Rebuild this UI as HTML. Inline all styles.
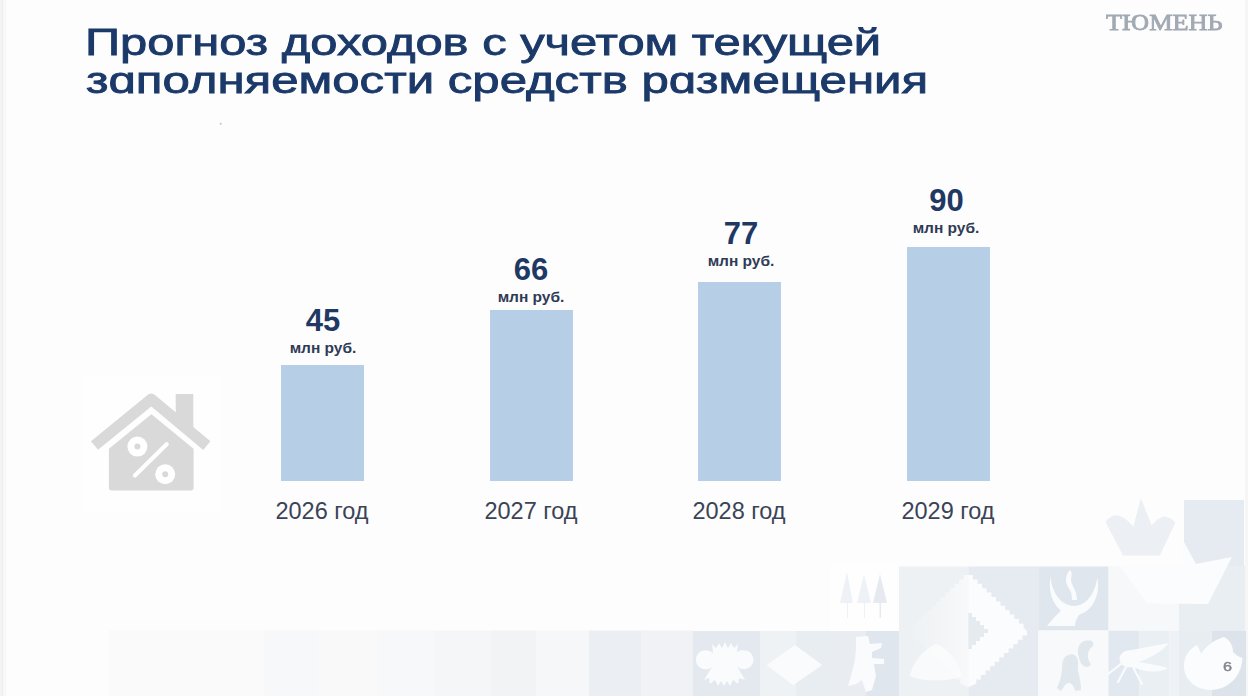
<!DOCTYPE html>
<html><head><meta charset="utf-8">
<style>
html,body{margin:0;padding:0;}
body{width:1248px;height:696px;position:relative;overflow:hidden;background:#fdfdfd;font-family:"Liberation Sans",sans-serif;}
.abs{position:absolute;white-space:nowrap;}
.t{font-weight:normal;font-size:36px;color:#1b3969;line-height:1;transform-origin:0 0;-webkit-text-stroke:0.8px #1b3969;}
.logo{font-family:"Liberation Serif",serif;font-weight:normal;font-size:23.5px;color:#a1a9b3;line-height:1;-webkit-text-stroke:0.8px #a1a9b3;transform-origin:0 0;}
.bar{position:absolute;background:#b6cfe6;width:83px;}
.v{position:absolute;margin-left:1px;font-weight:bold;font-size:31px;color:#1f3864;line-height:1;width:120px;text-align:center;}
.u{position:absolute;margin-left:1px;margin-top:-1px;font-weight:bold;font-size:15.5px;color:#2f3b55;line-height:1;width:120px;text-align:center;}
.y{position:absolute;font-size:23.5px;color:#3b4357;line-height:1;width:140px;text-align:center;margin-top:2.5px;}
</style></head><body>

<svg class="abs" style="left:0;top:0;filter:blur(0.6px)" width="1248" height="696" viewBox="0 0 1248 696">
 <defs>
  <linearGradient id="dg" x1="0" x2="1" y1="0" y2="0"><stop offset="0" stop-color="#eff2f4"/><stop offset="0.5" stop-color="#f2f4f6"/><stop offset="1" stop-color="#f8f9fa"/></linearGradient>
 </defs>
 <rect x="0" y="0" width="2.2" height="696" fill="#f4f4f4"/>
 <rect x="2.2" y="0" width="1" height="696" fill="#ececec"/>
 <rect x="3.2" y="0" width="3" height="696" fill="#f8f8f8"/>
 <rect x="1245" y="0" width="3" height="696" fill="#f6f6f7"/>
 <circle cx="220.7" cy="123.8" r="1" fill="#c4c4c4"/>
 <rect x="83" y="376" width="138" height="136" fill="#fefefe"/>
 <!-- fade strip -->
 <rect x="109" y="630.5" width="155" height="65.5" fill="#fafafb"/>
 <rect x="264" y="630.5" width="55" height="65.5" fill="#f7f8f9"/>
 <rect x="319" y="630.5" width="58" height="65.5" fill="#f9f9fa"/>
 <rect x="377" y="630.5" width="57" height="65.5" fill="#f7f8f9"/>
 <rect x="434" y="630.5" width="57" height="65.5" fill="#f5f6f8"/>
 <rect x="491" y="630.5" width="45" height="65.5" fill="#f1f3f5"/>
 <rect x="536" y="630.5" width="53" height="65.5" fill="#f6f7f8"/>
 <rect x="589" y="630.5" width="52" height="65.5" fill="#ebeff4"/>
 <rect x="641" y="630.5" width="52" height="65.5" fill="#f0f2f5"/>
 <!-- flower tile -->
 <rect x="693" y="631" width="67" height="65" fill="#e3e9ef"/>
 <path d="M712,644 L716,648 L719,643 L722,648 L725,642 L728,648 L731,643 L734,648 L738,644 L737,652 C740,650 742,650 744,650.3 C749,650.3 753.5,654.5 753.5,659.8 C753.5,665 749,669.3 744,669.3 C741,669.3 739,668 737,666 L745,680 L739,678 L738,684 L733,680 L730,686 L727,681 L724,686 L721,681 L718,686 L715,680 L710,684 L709,678 L704,680 L712,667 C710,668.5 708,669.3 705.6,669.3 C700,669.3 696,665 696,659.8 C696,654.5 700,650.3 705.6,650.3 C708,650.3 710,651 713,653 Z" fill="#fafbfd"/>
 <!-- diamond tile -->
 <rect x="760" y="631" width="36" height="65" fill="#eef2f5"/>
 <rect x="796" y="631" width="34" height="65" fill="#e8edf2"/>
 <path d="M795,645 L822.4,665 L793,685.3 L766.7,665 Z" fill="#fafbfc"/>
 <!-- bear tile -->
 <rect x="830" y="631" width="36" height="65" fill="#e9edf2"/>
 <rect x="866" y="631" width="33" height="65" fill="#dfe6ed"/>
 <path d="M856,637 L868,636 L870,644 L882,643 L881,648 L872,652 L872,658 L884,659 L884,664 L874,664 L876,676 L872,690 L866,692 L862,680 L856,684 L848,686 L852,672 L855,660 L856,648 Z" fill="#fafbfd"/>
 <!-- trees tile -->
 <rect x="830" y="564" width="69" height="67" fill="#fefefe"/>
 <path d="M847,618 L847,603 L840,603 L847,572 L853,603 L848,603 L848,618 Z M864,618 L864,603 L857,603 L864,574 L871,603 L865,603 L865,618 Z" fill="#eef1f5"/>
 <path d="M879.5,618 L879.5,603 L873,603 L880,574 L887,603 L881,603 L881,618 Z" fill="#e6eaf0"/>
 <!-- big diamond tile -->
 <rect x="899" y="566.5" width="69.3" height="129.5" fill="#eef1f4"/>
 <rect x="968.3" y="566.5" width="70" height="129.5" fill="#e6ebf1"/>
 <path d="M968.3,575.0 L963.7,575.0 L963.7,579.4 L959.1,579.4 L959.1,583.8 L954.5,583.8 L954.5,588.2 L949.9,588.2 L949.9,592.6 L945.2,592.6 L945.2,597.0 L940.6,597.0 L940.6,601.4 L936.0,601.4 L936.0,605.8 L931.4,605.8 L931.4,610.2 L926.8,610.2 L926.8,614.6 L922.2,614.6 L922.2,619.0 L917.6,619.0 L917.6,623.4 L913.0,623.4 L913.0,627.8 L909.6,631.0 L909.6,635.4 L914.2,635.4 L914.2,639.8 L918.8,639.8 L918.8,644.2 L923.4,644.2 L923.4,648.6 L928.0,648.6 L928.0,653.0 L932.7,653.0 L932.7,657.4 L937.3,657.4 L937.3,661.8 L941.9,661.8 L941.9,666.2 L946.5,666.2 L946.5,670.6 L951.1,670.6 L951.1,675.0 L955.7,675.0 L955.7,679.4 L960.3,679.4 L960.3,683.8 L968.3,687.0 Z" fill="url(#dg)"/>
 <path d="M968.3,575.0 L972.9,575.0 L972.9,579.4 L977.5,579.4 L977.5,583.8 L982.1,583.8 L982.1,588.2 L986.7,588.2 L986.7,592.6 L991.4,592.6 L991.4,597.0 L996.0,597.0 L996.0,601.4 L1000.6,601.4 L1000.6,605.8 L1005.2,605.8 L1005.2,610.2 L1009.8,610.2 L1009.8,614.6 L1014.4,614.6 L1014.4,619.0 L1019.0,619.0 L1019.0,623.4 L1023.6,623.4 L1023.6,627.8 L1027.0,631.0 L1027.0,635.4 L1022.4,635.4 L1022.4,639.8 L1017.8,639.8 L1017.8,644.2 L1013.2,644.2 L1013.2,648.6 L1008.6,648.6 L1008.6,653.0 L1003.9,653.0 L1003.9,657.4 L999.3,657.4 L999.3,661.8 L994.7,661.8 L994.7,666.2 L990.1,666.2 L990.1,670.6 L985.5,670.6 L985.5,675.0 L980.9,675.0 L980.9,679.4 L976.3,679.4 L976.3,683.8 L968.3,687.0 Z" fill="#fbfcfd"/>
 <path d="M968.3,613 L972,613 L972,617 L976,617 L976,621 L980,621 L980,625 L984,625 L984,629 L988,629 L988,633 L984,633 L984,637 L980,637 L980,641 L976,641 L976,645 L972,645 L972,649 L968.3,649 Z" fill="#e6ebf0"/>
 <path d="M910,676 C912,664 922,650 936,644 C948,648 958,660 962,676 C950,682 922,682 910,676 Z" fill="#fbfcfc" opacity="0.8"/>
 <!-- bird tile -->
 <rect x="1038.3" y="566.5" width="70.2" height="64" fill="#dfe6ee"/>
 <path d="M1050.5,576.6 C1047,598 1058,615 1074,615.5 C1090,615 1101,598 1097.4,577.6 C1095,594 1086,606 1074,606 C1062,606 1052,594 1050.5,576.6 Z" fill="#fafbfd"/>
 <path d="M1070,570 C1066,574 1065,580 1067,585 C1069,589 1072,591 1072,600 L1077,600 C1077,590 1071,585 1071,580 C1071,576 1073,573 1070,570 Z" fill="#fafbfd"/>
 <path d="M1063,608 C1057,615 1051,620 1047,626 L1075,626 C1075,620 1079,614 1085,608 Z" fill="#fafbfd"/>
 <!-- griffin tile -->
 <rect x="1038.3" y="630.5" width="70.2" height="65.5" fill="#f7f9fa"/>
 <path d="M1082,642 C1090,639 1095,641 1093,646 C1087,650 1086,658 1091,664 C1089,669 1082,667 1080,661 C1077,653 1077,646 1082,642 Z" fill="#e0e7ed"/>
 <path d="M1068,655 C1075,652 1079,658 1078,666 C1077,672 1081,678 1081,690 L1075,691 C1073,683 1069,681 1065,685 L1061,691 L1057,688 C1060,681 1062,674 1062,668 C1062,660 1064,657 1068,655 Z" fill="#e0e7ed"/>
 <!-- mosquito tile -->
 <rect x="1108.5" y="630.5" width="31" height="65.5" fill="#e2e8ef"/>
 <rect x="1139.5" y="630.5" width="30" height="65.5" fill="#eaeff3"/>
 <rect x="1169.5" y="630.5" width="9.5" height="65.5" fill="#eef1f5"/>
 <ellipse cx="1129" cy="659" rx="9.5" ry="8.5" fill="#fafbfd"/>
 <path d="M1126,651 C1140,648 1155,646 1169,643 C1162,652 1150,658 1134,664 Z M1132,661 C1146,663 1158,665 1168,668 C1158,674 1142,672 1130,666 Z" fill="#fafbfd"/>
 <path d="M1121,664 L1108,674 M1126,667 L1118,682 M1133,667 L1142,684" stroke="#fafbfd" stroke-width="2.2" stroke-linecap="round"/>
 <!-- fox tile -->
 <rect x="1179" y="631" width="33" height="65" fill="#e8edf2"/>
 <rect x="1212" y="631" width="34" height="65" fill="#dce3eb"/>
 <path d="M1197,645 C1199,648 1200,651 1201,654 C1206,646 1214,640 1224,637 C1230,640 1233,646 1233,652 C1237,656 1240,657 1242.5,658 C1242,676 1228,690 1211,690 C1196,690 1184,680 1184,666 C1184,656 1190,648 1197,645 Z" fill="#fbfcfd"/>
 <!-- boat row tiles -->
 <rect x="1108.5" y="566" width="70.5" height="64.5" fill="#f6f8fa"/>
 <rect x="1179" y="566" width="66" height="65" fill="#e9eef3"/>
 <!-- top right blue tile -->
 <rect x="1184" y="500" width="60" height="66" fill="#e6ebf2"/>
 <!-- crown -->
 <path d="M1123,555.5 L1105.7,522.2 C1108,518 1113,515 1117.2,515.3 C1124,517 1130,522 1133.3,526.8 L1140.8,498 L1151.7,525.6 C1155,521 1160,517 1164.4,516.4 C1169,517 1173,519 1175.3,522.8 L1159.8,555.5 Z" fill="#eceff3"/>
 <path d="M1183.5,541 L1197,566 L1183.5,566 Z" fill="#fbfcfd"/>
 <!-- boat white -->
 <path d="M1120,566 L1195.8,564 L1232,557 L1208,604 L1147,603.5 Z" fill="#fbfcfd"/>
</svg>

<svg class="abs" style="left:0;top:0" width="1248" height="696" viewBox="0 0 1248 696">
 <g fill="#d9d9d9">
  <path d="M175.7,394 L193.3,394 L193.3,435 L175.7,420 Z"/>
  <path d="M151.4,414.2 L193.6,448.8 L193.6,487.4 Q193.6,490.4 190.6,490.4 L111.9,490.4 Q108.9,490.4 108.9,487.4 L108.9,448.8 Z"/>
 </g>
 <polyline points="94.5,445.5 151.4,399.2 206.8,445.6" fill="none" stroke="#d9d9d9" stroke-width="11.2" stroke-linecap="butt" stroke-linejoin="round"/>
 <g fill="#ffffff">
  <circle cx="137.4" cy="446.6" r="10"/>
  <circle cx="165.2" cy="474.3" r="10"/>
 </g>
 <g fill="#d9d9d9">
  <circle cx="137.4" cy="446.6" r="3"/>
  <circle cx="165.2" cy="474.3" r="3"/>
 </g>
 <line x1="134.9" y1="475.6" x2="166.7" y2="444.3" stroke="#ffffff" stroke-width="4.2" stroke-linecap="round"/>
</svg>
<div class="abs" style="left:1223px;top:661px;font-weight:normal;font-size:12.5px;color:#80868f;line-height:1;-webkit-text-stroke:0.4px #80868f;transform:scaleX(1.3);transform-origin:0 0">6</div>

<div class="abs t" id="t1" style="left:85px;top:24.8px;transform:scaleX(1.357)">Прогноз доходов с учетом текущей</div>
<div class="abs t" id="t2" style="left:86px;top:63px;transform:scaleX(1.365)">зɑполняемости средств рɑзмещения</div>
<div class="abs logo" id="logo" style="left:1106px;top:10.8px;transform:scaleX(1.12)">ТЮМЕНЬ</div>

<div class="bar" style="left:281px;top:365px;height:116px"></div>
<div class="bar" style="left:490px;top:310px;height:171px"></div>
<div class="bar" style="left:698px;top:282px;height:199px"></div>
<div class="bar" style="left:907px;top:247px;height:234px"></div>

<div class="v" style="left:262px;top:305px">45</div>
<div class="u" style="left:262px;top:341px">млн руб.</div>
<div class="v" style="left:470px;top:254px">66</div>
<div class="u" style="left:470px;top:290px">млн руб.</div>
<div class="v" style="left:680px;top:218px">77</div>
<div class="u" style="left:680px;top:254px">млн руб.</div>
<div class="v" style="left:885.5px;top:185px">90</div>
<div class="u" style="left:885px;top:221px">млн руб.</div>

<div class="y" style="left:252px;top:497px">2026 год</div>
<div class="y" style="left:461px;top:497px">2027 год</div>
<div class="y" style="left:669px;top:497px">2028 год</div>
<div class="y" style="left:878px;top:497px">2029 год</div>

</body></html>
